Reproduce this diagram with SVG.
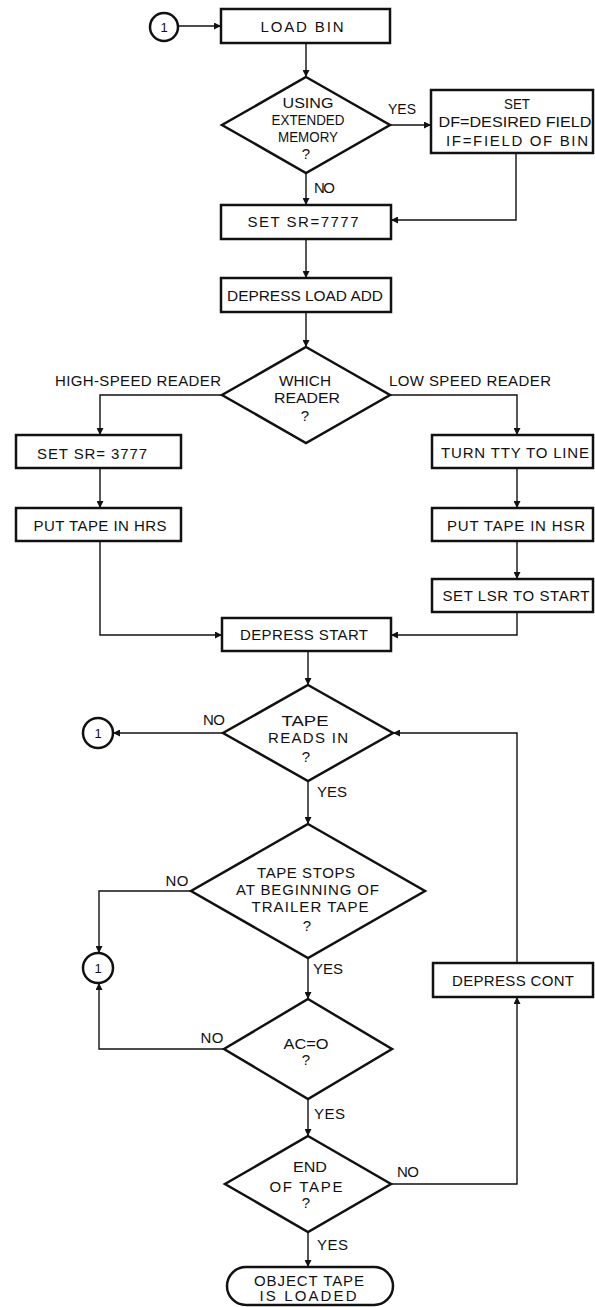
<svg xmlns="http://www.w3.org/2000/svg" width="595" height="1307" viewBox="0 0 595 1307">
<style>
.bg{fill:#fff}
.box{fill:#fff;stroke:#111;stroke-width:2.5}
.ln{fill:none;stroke:#111;stroke-width:1.4}
text{font-family:"Liberation Sans",Arial,sans-serif;font-size:15px;fill:#111;text-anchor:middle}
.lbl{text-anchor:start}
.num{font-size:13px}
</style>
<defs>
<marker id="ah" viewBox="0 0 10 10" refX="10" refY="5" markerUnits="userSpaceOnUse" markerWidth="8" markerHeight="7" orient="auto">
<path d="M0,0 L10,5 L0,10 z" fill="#111"/>
</marker>
</defs>
<rect class="bg" x="0" y="0" width="595" height="1307"/>

<g id="connectors" class="ln" marker-end="url(#ah)">
<path d="M178,26 H221"/>
<path d="M306,43 V77"/>
<path d="M390,125 H431"/>
<path d="M516,153 V220 H391"/>
<path d="M306,173 V205"/>
<path d="M306,239 V278"/>
<path d="M306,312 V347"/>
<path d="M222,395 H100 V435"/>
<path d="M390,395 H517 V435"/>
<path d="M100,468 V508"/>
<path d="M517,468 V508"/>
<path d="M517,541 V579"/>
<path d="M100,541 V635 H222"/>
<path d="M517,612 V635 H391"/>
<path d="M308,651 V685"/>
<path d="M223,733 H113"/>
<path d="M308,781 V824"/>
<path d="M191,891 H99 V953"/>
<path d="M308,958 V999"/>
<path d="M224,1049 H99 V983"/>
<path d="M308,1099 V1136"/>
<path d="M391,1184 H517 V997"/>
<path d="M517,963 V733 H393"/>
<path d="M308,1232 V1267"/>
</g>

<g id="labels">
<text x="402" y="113.5" textLength="28" lengthAdjust="spacingAndGlyphs">YES</text>
<text class="lbl" x="314" y="192.5" textLength="21" lengthAdjust="spacing">NO</text>
<text x="138" y="386" textLength="166" lengthAdjust="spacing">HIGH-SPEED READER</text>
<text x="470" y="386" textLength="162" lengthAdjust="spacing">LOW SPEED READER</text>
<text x="214" y="724.5" textLength="22" lengthAdjust="spacing">NO</text>
<text class="lbl" x="317" y="797" textLength="30" lengthAdjust="spacing">YES</text>
<text x="177" y="885.5" textLength="23" lengthAdjust="spacing">NO</text>
<text class="lbl" x="313" y="973.5" textLength="30" lengthAdjust="spacing">YES</text>
<text x="212" y="1043" textLength="23" lengthAdjust="spacing">NO</text>
<text class="lbl" x="314" y="1119" textLength="31" lengthAdjust="spacing">YES</text>
<text class="lbl" x="397" y="1177" textLength="22" lengthAdjust="spacing">NO</text>
<text class="lbl" x="317" y="1249.5" textLength="31" lengthAdjust="spacing">YES</text>
</g>

<g id="start-connector">
<circle class="box" cx="164" cy="27" r="14"/>
<text class="num" x="164" y="31.5">1</text>
</g>

<g id="load-bin">
<rect class="box" x="221" y="9" width="169" height="34"/>
<text x="302" y="31.5" textLength="83" lengthAdjust="spacing">LOAD BIN</text>
</g>

<g id="using-extended-memory">
<polygon class="box" points="306,77 390,125 306,173 222,125"/>
<text x="308" y="107.5" textLength="51" lengthAdjust="spacingAndGlyphs">USING</text>
<text x="308" y="124.5" textLength="73" lengthAdjust="spacingAndGlyphs">EXTENDED</text>
<text x="308" y="141.5" textLength="60" lengthAdjust="spacingAndGlyphs">MEMORY</text>
<text x="306" y="159">?</text>
</g>

<g id="set-df-if">
<rect class="box" x="431" y="90" width="162" height="63"/>
<text x="517" y="108.5" textLength="26" lengthAdjust="spacingAndGlyphs">SET</text>
<text x="515" y="127" textLength="153" lengthAdjust="spacingAndGlyphs">DF=DESIRED FIELD</text>
<text x="517" y="146" textLength="142" lengthAdjust="spacing">IF=FIELD OF BIN</text>
</g>

<g id="set-sr-7777">
<rect class="box" x="221" y="205" width="170" height="34"/>
<text x="303" y="227" textLength="111" lengthAdjust="spacing">SET SR=7777</text>
</g>

<g id="depress-load-add">
<rect class="box" x="221" y="278" width="170" height="34"/>
<text x="305" y="300.5" textLength="156" lengthAdjust="spacingAndGlyphs">DEPRESS LOAD ADD</text>
</g>

<g id="which-reader">
<polygon class="box" points="306,347 390,395 306,443 222,395"/>
<text x="305" y="386" textLength="52" lengthAdjust="spacingAndGlyphs">WHICH</text>
<text x="307" y="402.7" textLength="66" lengthAdjust="spacingAndGlyphs">READER</text>
<text x="305" y="421">?</text>
</g>

<g id="set-sr-3777">
<rect class="box" x="16" y="435" width="165" height="33"/>
<text x="92" y="458.5" textLength="110" lengthAdjust="spacing">SET SR= 3777</text>
</g>

<g id="put-tape-hrs">
<rect class="box" x="16" y="508" width="165" height="33"/>
<text x="100" y="530.5" textLength="133" lengthAdjust="spacing">PUT TAPE IN HRS</text>
</g>

<g id="turn-tty-line">
<rect class="box" x="432" y="435" width="161" height="33"/>
<text x="515" y="457.5" textLength="148" lengthAdjust="spacing">TURN TTY TO LINE</text>
</g>

<g id="put-tape-hsr">
<rect class="box" x="432" y="508" width="161" height="33"/>
<text x="516" y="530.5" textLength="138" lengthAdjust="spacing">PUT TAPE IN HSR</text>
</g>

<g id="set-lsr-start">
<rect class="box" x="432" y="579" width="161" height="33"/>
<text x="516" y="601" textLength="147" lengthAdjust="spacing">SET LSR TO START</text>
</g>

<g id="depress-start">
<rect class="box" x="222" y="618" width="169" height="33"/>
<text x="304" y="640" textLength="128" lengthAdjust="spacing">DEPRESS START</text>
</g>

<g id="tape-reads-in">
<polygon class="box" points="308,685 393,733 308,781 223,733"/>
<text x="305" y="725.5" textLength="47" lengthAdjust="spacingAndGlyphs">TAPE</text>
<text x="308" y="742.7" textLength="80" lengthAdjust="spacing">READS IN</text>
<text x="306" y="762">?</text>
</g>

<g id="return-1a">
<circle class="box" cx="98" cy="733" r="15"/>
<text class="num" x="98" y="737.5">1</text>
</g>

<g id="tape-stops">
<polygon class="box" points="308,824 425,891 308,958 191,891"/>
<text x="306" y="878" textLength="98" lengthAdjust="spacing">TAPE STOPS</text>
<text x="307.5" y="894.5" textLength="143" lengthAdjust="spacing">AT BEGINNING OF</text>
<text x="310" y="911.5" textLength="117" lengthAdjust="spacing">TRAILER TAPE</text>
<text x="307" y="931">?</text>
</g>

<g id="return-1b">
<circle class="box" cx="98" cy="968" r="15"/>
<text class="num" x="98" y="972.5">1</text>
</g>

<g id="ac-zero">
<polygon class="box" points="308,999 392,1049 308,1099 224,1049"/>
<text x="306" y="1049" textLength="45" lengthAdjust="spacingAndGlyphs">AC=O</text>
<text x="306" y="1065">?</text>
</g>

<g id="depress-cont">
<rect class="box" x="433" y="963" width="160" height="34"/>
<text x="513" y="986" textLength="122" lengthAdjust="spacing">DEPRESS CONT</text>
</g>

<g id="end-of-tape">
<polygon class="box" points="308,1136 391,1184 308,1232 225,1184"/>
<text x="310" y="1172" textLength="34" lengthAdjust="spacingAndGlyphs">END</text>
<text x="306" y="1191.5" textLength="73" lengthAdjust="spacing">OF TAPE</text>
<text x="306" y="1208">?</text>
</g>

<g id="object-tape-loaded">
<rect class="box" x="227" y="1267" width="166" height="38" rx="19" ry="19"/>
<text x="309" y="1285.5" textLength="110" lengthAdjust="spacing">OBJECT TAPE</text>
<text x="308" y="1300.5" textLength="97" lengthAdjust="spacing">IS LOADED</text>
</g>
</svg>
